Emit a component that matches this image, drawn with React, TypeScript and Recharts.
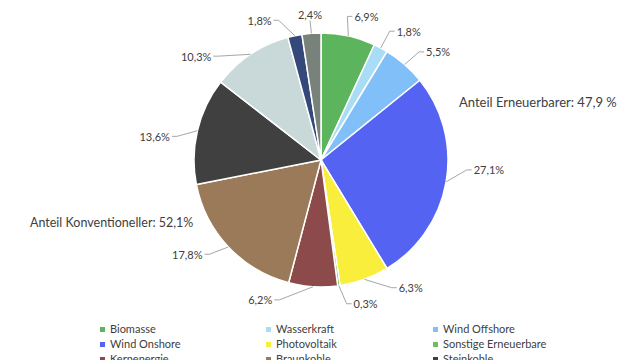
import React from 'react'
import { PieChart, Pie, Cell } from 'recharts'

const SOURCES = [
  'Biomasse',
  'Wasserkraft',
  'Wind Offshore',
  'Wind Onshore',
  'Photovoltaik',
  'Sonstige Erneuerbare',
  'Kernenergie',
  'Braunkohle',
  'Steinkohle',
  'Erdgas',
  'Mineralölprodukte',
  'Sonstige Konventionelle',
]

const SHARES = [6.9, 1.8, 5.5, 27.1, 6.3, 0.3, 6.2, 17.8, 13.6, 10.3, 1.8, 2.4]

const COLORS = [
  '#5cb45c',
  '#a9ddf6',
  '#80bff7',
  '#5563f3',
  '#f8ee3b',
  '#6cbf5a',
  '#8d4a4b',
  '#9b7a59',
  '#404040',
  '#c9d9d9',
  '#34497a',
  '#78827a',
]

const FONT = 'Lato, "Open Sans", sans-serif'
const TEXT = '#404040'
const RAD = Math.PI / 180

// label placement tweaks (degrees, clockwise) so the small slices don't collide
const LABEL_NUDGE = [-2, 0, 1, -6, -9, -2, 13, 3, -4, -11, -5, 0]

const chartData = SOURCES.map((name, i) => ({ name, value: SHARES[i] }))

const fmt = (v: number) => v.toFixed(1).replace('.', ',') + '%'

const renderLabel = (props: any) => {
  const { cx, cy, midAngle, outerRadius, value, index } = props
  const theta = (90 - midAngle) * RAD
  const sx = cx + outerRadius * Math.sin(theta)
  const sy = cy - outerRadius * Math.cos(theta)
  const la = (90 - midAngle + (LABEL_NUDGE[index] || 0)) * RAD
  const r = outerRadius + 19
  const lx = cx + r * Math.sin(la)
  const ly = cy - r * Math.cos(la)
  const vertical = Math.abs(Math.sin(la)) < 0.12
  if (vertical) {
    return (
      <g>
        <line x1={sx} y1={sy} x2={lx} y2={ly + 6} stroke="#a6a6a6" strokeWidth={1} />
        <text x={lx} y={ly} textAnchor="middle" dominantBaseline="central" fontSize={11} fontFamily={FONT} fill={TEXT}>
          {fmt(value)}
        </text>
      </g>
    )
  }
  const right = Math.sin(la) >= 0
  const ex = lx + (right ? 5 : -5)
  return (
    <g>
      <polyline points={`${sx},${sy} ${lx},${ly} ${ex},${ly}`} fill="none" stroke="#a6a6a6" strokeWidth={1} />
      <text
        x={ex + (right ? 2 : -2)}
        y={ly}
        textAnchor={right ? 'start' : 'end'}
        dominantBaseline="central"
        fontSize={11}
        fontFamily={FONT}
        fill={TEXT}
      >
        {fmt(value)}
      </text>
    </g>
  )
}

const App: React.FC = () => {
  const legendCols = [100, 266, 433]
  return (
    <div style={{ position: 'absolute', top: 0, left: 0, width: 640, height: 360, overflow: 'hidden', background: '#fff' }}>
      <PieChart width={640} height={360}>
        <Pie
          data={chartData}
          dataKey="value"
          nameKey="name"
          cx={316}
          cy={155}
          outerRadius={127}
          startAngle={90}
          endAngle={-270}
          stroke="#ffffff"
          strokeWidth={1.5}
          label={renderLabel}
          labelLine={false}
          isAnimationActive={false}
        >
          {chartData.map((entry, i) => (
            <Cell key={entry.name} fill={COLORS[i]} />
          ))}
        </Pie>
      </PieChart>
      <div style={{ position: 'absolute', left: 459, top: 94, fontFamily: FONT, fontSize: 13, color: TEXT, whiteSpace: 'nowrap' }}>
        Anteil Erneuerbarer: 47,9 %
      </div>
      <div style={{ position: 'absolute', left: 30, top: 215, fontFamily: FONT, fontSize: 12.5, color: TEXT, whiteSpace: 'nowrap' }}>
        Anteil Konventioneller: 52,1%
      </div>
      {chartData.map((entry, i) => (
        <div
          key={entry.name}
          style={{
            position: 'absolute',
            left: legendCols[i % 3],
            top: 322 + Math.floor(i / 3) * 15,
            fontFamily: FONT,
            fontSize: 11,
            color: TEXT,
            whiteSpace: 'nowrap',
            display: 'flex',
            alignItems: 'center',
            lineHeight: '14px',
          }}
        >
          <span style={{ display: 'inline-block', width: 5, height: 5, background: COLORS[i], marginRight: 5 }} />
          {entry.name}
        </div>
      ))}
    </div>
  )
}

export default App
